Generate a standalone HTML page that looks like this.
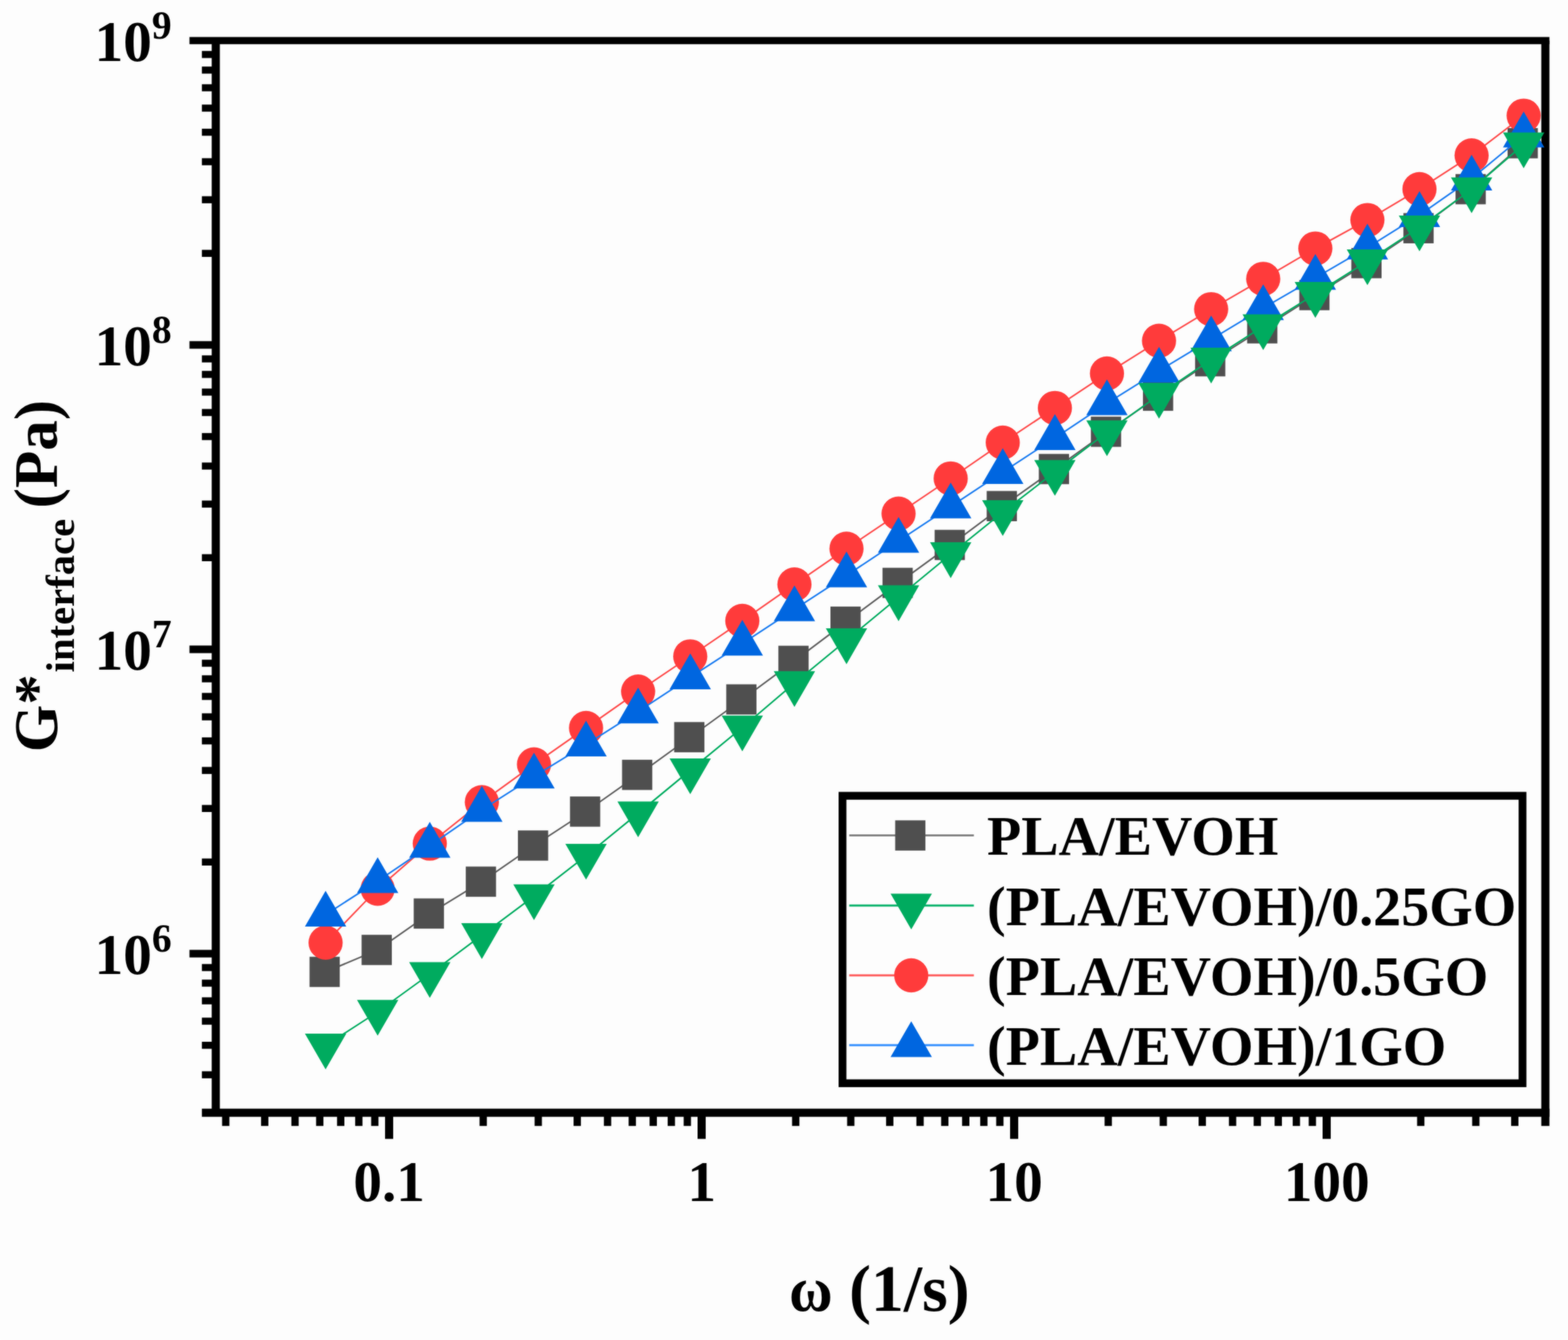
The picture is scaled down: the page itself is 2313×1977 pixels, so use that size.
<!DOCTYPE html>
<html lang="en"><head><meta charset="utf-8"><title>G* interface vs ω</title>
<style>html,body{margin:0;padding:0;background:#fdfdfd}svg{display:block}text{font-family:"Liberation Serif",serif;font-weight:bold;fill:#000}</style></head><body>
<svg width="2313" height="1977" viewBox="0 0 2313 1977">
<defs><filter id="soft" filterUnits="userSpaceOnUse" x="0" y="0" width="2313" height="1977" color-interpolation-filters="sRGB"><feGaussianBlur stdDeviation="1" result="b"/><feComposite in="SourceGraphic" in2="b" operator="arithmetic" k1="0" k2="0.5" k3="0.5" k4="0"/></filter></defs>
<rect width="2313" height="1977" fill="#fdfdfd"/>
<g filter="url(#soft)">
<rect width="2313" height="1977" fill="#fdfdfd"/>
<g fill="#000">
<rect x="279.5" y="54.6" width="2006.1" height="10.6"/>
<rect x="297.8" y="1635.7" width="1987.8" height="12"/>
<rect x="312.3" y="59.9" width="12" height="1581.8"/>
<rect x="2273.6" y="59.9" width="12" height="1601.3"/>
<rect x="297.8" y="1580.5" width="20.5" height="10.4"/>
<rect x="297.8" y="1537" width="20.5" height="10.4"/>
<rect x="297.8" y="1501.4" width="20.5" height="10.4"/>
<rect x="297.8" y="1471.4" width="20.5" height="10.4"/>
<rect x="297.8" y="1445.3" width="20.5" height="10.4"/>
<rect x="297.8" y="1422.3" width="20.5" height="10.4"/>
<rect x="279.5" y="1401.4" width="38.8" height="11.2"/>
<rect x="297.8" y="1266.6" width="20.5" height="10.4"/>
<rect x="297.8" y="1187.6" width="20.5" height="10.4"/>
<rect x="297.8" y="1131.5" width="20.5" height="10.4"/>
<rect x="297.8" y="1087.9" width="20.5" height="10.4"/>
<rect x="297.8" y="1052.4" width="20.5" height="10.4"/>
<rect x="297.8" y="1022.3" width="20.5" height="10.4"/>
<rect x="297.8" y="996.3" width="20.5" height="10.4"/>
<rect x="297.8" y="973.3" width="20.5" height="10.4"/>
<rect x="279.5" y="952.4" width="38.8" height="11.2"/>
<rect x="297.8" y="817.6" width="20.5" height="10.4"/>
<rect x="297.8" y="738.5" width="20.5" height="10.4"/>
<rect x="297.8" y="682.4" width="20.5" height="10.4"/>
<rect x="297.8" y="638.9" width="20.5" height="10.4"/>
<rect x="297.8" y="603.4" width="20.5" height="10.4"/>
<rect x="297.8" y="573.3" width="20.5" height="10.4"/>
<rect x="297.8" y="547.2" width="20.5" height="10.4"/>
<rect x="297.8" y="524.3" width="20.5" height="10.4"/>
<rect x="279.5" y="503.3" width="38.8" height="11.2"/>
<rect x="297.8" y="368.6" width="20.5" height="10.4"/>
<rect x="297.8" y="289.5" width="20.5" height="10.4"/>
<rect x="297.8" y="233.4" width="20.5" height="10.4"/>
<rect x="297.8" y="189.9" width="20.5" height="10.4"/>
<rect x="297.8" y="154.3" width="20.5" height="10.4"/>
<rect x="297.8" y="124.3" width="20.5" height="10.4"/>
<rect x="297.8" y="98.2" width="20.5" height="10.4"/>
<rect x="297.8" y="75.2" width="20.5" height="10.4"/>
<rect x="327.6" y="1641.7" width="10.8" height="19.5"/>
<rect x="385.1" y="1641.7" width="10.8" height="19.5"/>
<rect x="429.8" y="1641.7" width="10.8" height="19.5"/>
<rect x="466.3" y="1641.7" width="10.8" height="19.5"/>
<rect x="497.2" y="1641.7" width="10.8" height="19.5"/>
<rect x="523.9" y="1641.7" width="10.8" height="19.5"/>
<rect x="547.5" y="1641.7" width="10.8" height="19.5"/>
<rect x="568" y="1641.7" width="12" height="38.6"/>
<rect x="707.4" y="1641.7" width="10.8" height="19.5"/>
<rect x="788.6" y="1641.7" width="10.8" height="19.5"/>
<rect x="846.1" y="1641.7" width="10.8" height="19.5"/>
<rect x="890.8" y="1641.7" width="10.8" height="19.5"/>
<rect x="927.3" y="1641.7" width="10.8" height="19.5"/>
<rect x="958.2" y="1641.7" width="10.8" height="19.5"/>
<rect x="984.9" y="1641.7" width="10.8" height="19.5"/>
<rect x="1008.5" y="1641.7" width="10.8" height="19.5"/>
<rect x="1029" y="1641.7" width="12" height="38.6"/>
<rect x="1168.4" y="1641.7" width="10.8" height="19.5"/>
<rect x="1249.6" y="1641.7" width="10.8" height="19.5"/>
<rect x="1307.1" y="1641.7" width="10.8" height="19.5"/>
<rect x="1351.8" y="1641.7" width="10.8" height="19.5"/>
<rect x="1388.3" y="1641.7" width="10.8" height="19.5"/>
<rect x="1419.2" y="1641.7" width="10.8" height="19.5"/>
<rect x="1445.9" y="1641.7" width="10.8" height="19.5"/>
<rect x="1469.5" y="1641.7" width="10.8" height="19.5"/>
<rect x="1490" y="1641.7" width="12" height="38.6"/>
<rect x="1629.4" y="1641.7" width="10.8" height="19.5"/>
<rect x="1710.6" y="1641.7" width="10.8" height="19.5"/>
<rect x="1768.1" y="1641.7" width="10.8" height="19.5"/>
<rect x="1812.8" y="1641.7" width="10.8" height="19.5"/>
<rect x="1849.3" y="1641.7" width="10.8" height="19.5"/>
<rect x="1880.2" y="1641.7" width="10.8" height="19.5"/>
<rect x="1906.9" y="1641.7" width="10.8" height="19.5"/>
<rect x="1930.5" y="1641.7" width="10.8" height="19.5"/>
<rect x="1951" y="1641.7" width="12" height="38.6"/>
<rect x="2090.4" y="1641.7" width="10.8" height="19.5"/>
<rect x="2171.6" y="1641.7" width="10.8" height="19.5"/>
<rect x="2229.1" y="1641.7" width="10.8" height="19.5"/>
</g>
<g><polyline fill="none" stroke="#5f5f5f" stroke-width="2.35" points="480.3,1433.9 557.1,1401.5 634,1347.8 710.8,1300.8 787.7,1247.5 864.5,1197.4 941.3,1143.2 1018.2,1087.6 1095,1031.9 1171.9,975 1248.7,917.2 1325.5,860 1402.4,804 1479.2,746.7 1556.1,692 1632.9,637 1709.7,583.8 1786.6,533 1863.4,484.4 1940.3,435.4 2017.1,388.2 2093.9,336.7 2170.8,279.1 2247.6,211.3"/>
<rect x="456.6" y="1411.6" width="44.6" height="44.6" fill="#4f4f4f"/><rect x="533.4" y="1379.2" width="44.6" height="44.6" fill="#4f4f4f"/><rect x="610.3" y="1325.5" width="44.6" height="44.6" fill="#4f4f4f"/><rect x="687.1" y="1278.5" width="44.6" height="44.6" fill="#4f4f4f"/><rect x="764" y="1225.2" width="44.6" height="44.6" fill="#4f4f4f"/><rect x="840.8" y="1175.1" width="44.6" height="44.6" fill="#4f4f4f"/><rect x="917.6" y="1120.9" width="44.6" height="44.6" fill="#4f4f4f"/><rect x="994.5" y="1065.3" width="44.6" height="44.6" fill="#4f4f4f"/><rect x="1071.3" y="1009.6" width="44.6" height="44.6" fill="#4f4f4f"/><rect x="1148.2" y="952.7" width="44.6" height="44.6" fill="#4f4f4f"/><rect x="1225" y="894.9" width="44.6" height="44.6" fill="#4f4f4f"/><rect x="1301.8" y="837.7" width="44.6" height="44.6" fill="#4f4f4f"/><rect x="1378.7" y="781.7" width="44.6" height="44.6" fill="#4f4f4f"/><rect x="1455.5" y="724.4" width="44.6" height="44.6" fill="#4f4f4f"/><rect x="1532.4" y="669.7" width="44.6" height="44.6" fill="#4f4f4f"/><rect x="1609.2" y="614.7" width="44.6" height="44.6" fill="#4f4f4f"/><rect x="1686" y="561.5" width="44.6" height="44.6" fill="#4f4f4f"/><rect x="1762.9" y="510.7" width="44.6" height="44.6" fill="#4f4f4f"/><rect x="1839.7" y="462.1" width="44.6" height="44.6" fill="#4f4f4f"/><rect x="1916.6" y="413.1" width="44.6" height="44.6" fill="#4f4f4f"/><rect x="1993.4" y="365.9" width="44.6" height="44.6" fill="#4f4f4f"/><rect x="2070.2" y="314.4" width="44.6" height="44.6" fill="#4f4f4f"/><rect x="2147.1" y="256.8" width="44.6" height="44.6" fill="#4f4f4f"/><rect x="2223.9" y="189" width="44.6" height="44.6" fill="#4f4f4f"/></g>
<g><polyline fill="none" stroke="#ff4a4a" stroke-width="2.35" points="480.3,1390.8 557.1,1311.3 634,1244.6 710.8,1183.5 787.7,1127.7 864.5,1074 941.3,1020.3 1018.2,968.4 1095,916 1171.9,862.2 1248.7,809.5 1325.5,757.8 1402.4,705.9 1479.2,653 1556.1,601.9 1632.9,551 1709.7,502.8 1786.6,456.1 1863.4,411.4 1940.3,366.6 2017.1,324.6 2093.9,279 2170.8,229.3 2247.6,170.6"/>
<circle cx="480.3" cy="1390.8" r="25.2" fill="#ff3b3b"/><circle cx="557.1" cy="1311.3" r="25.2" fill="#ff3b3b"/><circle cx="634" cy="1244.6" r="25.2" fill="#ff3b3b"/><circle cx="710.8" cy="1183.5" r="25.2" fill="#ff3b3b"/><circle cx="787.7" cy="1127.7" r="25.2" fill="#ff3b3b"/><circle cx="864.5" cy="1074" r="25.2" fill="#ff3b3b"/><circle cx="941.3" cy="1020.3" r="25.2" fill="#ff3b3b"/><circle cx="1018.2" cy="968.4" r="25.2" fill="#ff3b3b"/><circle cx="1095" cy="916" r="25.2" fill="#ff3b3b"/><circle cx="1171.9" cy="862.2" r="25.2" fill="#ff3b3b"/><circle cx="1248.7" cy="809.5" r="25.2" fill="#ff3b3b"/><circle cx="1325.5" cy="757.8" r="25.2" fill="#ff3b3b"/><circle cx="1402.4" cy="705.9" r="25.2" fill="#ff3b3b"/><circle cx="1479.2" cy="653" r="25.2" fill="#ff3b3b"/><circle cx="1556.1" cy="601.9" r="25.2" fill="#ff3b3b"/><circle cx="1632.9" cy="551" r="25.2" fill="#ff3b3b"/><circle cx="1709.7" cy="502.8" r="25.2" fill="#ff3b3b"/><circle cx="1786.6" cy="456.1" r="25.2" fill="#ff3b3b"/><circle cx="1863.4" cy="411.4" r="25.2" fill="#ff3b3b"/><circle cx="1940.3" cy="366.6" r="25.2" fill="#ff3b3b"/><circle cx="2017.1" cy="324.6" r="25.2" fill="#ff3b3b"/><circle cx="2093.9" cy="279" r="25.2" fill="#ff3b3b"/><circle cx="2170.8" cy="229.3" r="25.2" fill="#ff3b3b"/><circle cx="2247.6" cy="170.6" r="25.2" fill="#ff3b3b"/></g>
<g><polyline fill="none" stroke="#1a7bf0" stroke-width="2.35" points="480.3,1349.4 557.1,1300 634,1247.8 710.8,1194.8 787.7,1145.6 864.5,1098.4 941.3,1049.7 1018.2,999.3 1095,949.6 1171.9,899 1248.7,849 1325.5,798 1402.4,747.2 1479.2,696.4 1556.1,646.3 1632.9,595 1709.7,546.9 1786.6,500.7 1863.4,454.6 1940.3,410 2017.1,365.2 2093.9,317.3 2170.8,263.5 2247.6,199.8"/>
<polygon points="480.3,1314.2 510.8,1367 449.8,1367" fill="#0066e0"/><polygon points="557.1,1264.8 587.6,1317.6 526.6,1317.6" fill="#0066e0"/><polygon points="634,1212.6 664.5,1265.4 603.5,1265.4" fill="#0066e0"/><polygon points="710.8,1159.6 741.3,1212.4 680.3,1212.4" fill="#0066e0"/><polygon points="787.7,1110.4 818.2,1163.2 757.2,1163.2" fill="#0066e0"/><polygon points="864.5,1063.2 895,1116 834,1116" fill="#0066e0"/><polygon points="941.3,1014.5 971.8,1067.3 910.8,1067.3" fill="#0066e0"/><polygon points="1018.2,964.1 1048.7,1016.9 987.7,1016.9" fill="#0066e0"/><polygon points="1095,914.4 1125.5,967.2 1064.5,967.2" fill="#0066e0"/><polygon points="1171.9,863.8 1202.4,916.6 1141.4,916.6" fill="#0066e0"/><polygon points="1248.7,813.8 1279.2,866.6 1218.2,866.6" fill="#0066e0"/><polygon points="1325.5,762.8 1356,815.6 1295,815.6" fill="#0066e0"/><polygon points="1402.4,712 1432.9,764.8 1371.9,764.8" fill="#0066e0"/><polygon points="1479.2,661.2 1509.7,714 1448.7,714" fill="#0066e0"/><polygon points="1556.1,611.1 1586.6,663.9 1525.6,663.9" fill="#0066e0"/><polygon points="1632.9,559.8 1663.4,612.6 1602.4,612.6" fill="#0066e0"/><polygon points="1709.7,511.7 1740.2,564.5 1679.2,564.5" fill="#0066e0"/><polygon points="1786.6,465.5 1817.1,518.3 1756.1,518.3" fill="#0066e0"/><polygon points="1863.4,419.4 1893.9,472.2 1832.9,472.2" fill="#0066e0"/><polygon points="1940.3,374.8 1970.8,427.6 1909.8,427.6" fill="#0066e0"/><polygon points="2017.1,330 2047.6,382.8 1986.6,382.8" fill="#0066e0"/><polygon points="2093.9,282.1 2124.4,334.9 2063.4,334.9" fill="#0066e0"/><polygon points="2170.8,228.3 2201.3,281.1 2140.3,281.1" fill="#0066e0"/><polygon points="2247.6,164.6 2278.1,217.4 2217.1,217.4" fill="#0066e0"/></g>
<g><polyline fill="none" stroke="#00ab5f" stroke-width="2.35" points="480.3,1542.5 557.1,1492.9 634,1437.1 710.8,1379.7 787.7,1322.3 864.5,1262.6 941.3,1200 1018.2,1136.5 1095,1073.4 1171.9,1007.9 1248.7,944.7 1325.5,881.2 1402.4,817.7 1479.2,755.6 1556.1,696.3 1632.9,637.9 1709.7,582.6 1786.6,530.6 1863.4,481.4 1940.3,433.7 2017.1,385.6 2093.9,335.5 2170.8,279.4 2247.6,213"/>
<polygon points="480.3,1577.7 510.8,1524.9 449.8,1524.9" fill="#00ab5f"/><polygon points="557.1,1528.1 587.6,1475.3 526.6,1475.3" fill="#00ab5f"/><polygon points="634,1472.3 664.5,1419.5 603.5,1419.5" fill="#00ab5f"/><polygon points="710.8,1414.9 741.3,1362.1 680.3,1362.1" fill="#00ab5f"/><polygon points="787.7,1357.5 818.2,1304.7 757.2,1304.7" fill="#00ab5f"/><polygon points="864.5,1297.8 895,1245 834,1245" fill="#00ab5f"/><polygon points="941.3,1235.2 971.8,1182.4 910.8,1182.4" fill="#00ab5f"/><polygon points="1018.2,1171.7 1048.7,1118.9 987.7,1118.9" fill="#00ab5f"/><polygon points="1095,1108.6 1125.5,1055.8 1064.5,1055.8" fill="#00ab5f"/><polygon points="1171.9,1043.1 1202.4,990.3 1141.4,990.3" fill="#00ab5f"/><polygon points="1248.7,979.9 1279.2,927.1 1218.2,927.1" fill="#00ab5f"/><polygon points="1325.5,916.4 1356,863.6 1295,863.6" fill="#00ab5f"/><polygon points="1402.4,852.9 1432.9,800.1 1371.9,800.1" fill="#00ab5f"/><polygon points="1479.2,790.8 1509.7,738 1448.7,738" fill="#00ab5f"/><polygon points="1556.1,731.5 1586.6,678.7 1525.6,678.7" fill="#00ab5f"/><polygon points="1632.9,673.1 1663.4,620.3 1602.4,620.3" fill="#00ab5f"/><polygon points="1709.7,617.8 1740.2,565 1679.2,565" fill="#00ab5f"/><polygon points="1786.6,565.8 1817.1,513 1756.1,513" fill="#00ab5f"/><polygon points="1863.4,516.6 1893.9,463.8 1832.9,463.8" fill="#00ab5f"/><polygon points="1940.3,468.9 1970.8,416.1 1909.8,416.1" fill="#00ab5f"/><polygon points="2017.1,420.8 2047.6,368 1986.6,368" fill="#00ab5f"/><polygon points="2093.9,370.7 2124.4,317.9 2063.4,317.9" fill="#00ab5f"/><polygon points="2170.8,314.6 2201.3,261.8 2140.3,261.8" fill="#00ab5f"/><polygon points="2247.6,248.2 2278.1,195.4 2217.1,195.4" fill="#00ab5f"/></g>
<g font-size="84.5">
<text x="139.5" y="89.9">10<tspan font-size="58.5" dy="-32.7">9</tspan></text>
<text x="139.5" y="538.9">10<tspan font-size="58.5" dy="-32.7">8</tspan></text>
<text x="139.5" y="988">10<tspan font-size="58.5" dy="-32.7">7</tspan></text>
<text x="139.5" y="1437">10<tspan font-size="58.5" dy="-32.7">6</tspan></text>
<text x="574" y="1772" text-anchor="middle">0.1</text>
<text x="1035" y="1772" text-anchor="middle">1</text>
<text x="1496" y="1772" text-anchor="middle">10</text>
<text x="1957" y="1772" text-anchor="middle">100</text>
</g>
<text y="1934.4" font-size="97"><tspan x="1164.1" font-size="95.5" textLength="64.2" lengthAdjust="spacingAndGlyphs">ω</tspan> <tspan x="1252.5">(1/s)</tspan></text>
<g transform="translate(84,1109.8) rotate(-90)"><text font-size="90"><tspan x="0" y="0">G*</tspan><tspan x="117.8" y="25.3" font-size="60">interface</tspan> <tspan x="359.9" y="0">(Pa)</tspan></text></g>
<rect x="1242.8" y="1174.1" width="1003.1" height="424.1" fill="#fdfdfd" stroke="#000" stroke-width="11.5"/>
<line x1="1252.7" y1="1232.6" x2="1436.6" y2="1232.6" stroke="#808080" stroke-width="3"/>
<rect x="1320.5" y="1210.3" width="44.6" height="44.6" fill="#4f4f4f"/>
<text x="1456" y="1261.3" font-size="82.6">PLA/EVOH</text>
<line x1="1252.7" y1="1336" x2="1436.6" y2="1336" stroke="#00b066" stroke-width="3"/>
<polygon points="1344.2,1371.2 1374.7,1318.4 1313.7,1318.4" fill="#00ab5f"/>
<text x="1456" y="1364.7" font-size="82.6">(PLA/EVOH)/0.25GO</text>
<line x1="1252.7" y1="1439" x2="1436.6" y2="1439" stroke="#ff5555" stroke-width="3"/>
<circle cx="1344.2" cy="1439" r="25.2" fill="#ff3b3b"/>
<text x="1456" y="1467.7" font-size="82.6">(PLA/EVOH)/0.5GO</text>
<line x1="1252.7" y1="1541.9" x2="1436.6" y2="1541.9" stroke="#2d8cff" stroke-width="3"/>
<polygon points="1344.2,1506.7 1374.7,1559.5 1313.7,1559.5" fill="#0066e0"/>
<text x="1456" y="1570.6" font-size="82.6">(PLA/EVOH)/1GO</text>
</g>
</svg></body></html>
